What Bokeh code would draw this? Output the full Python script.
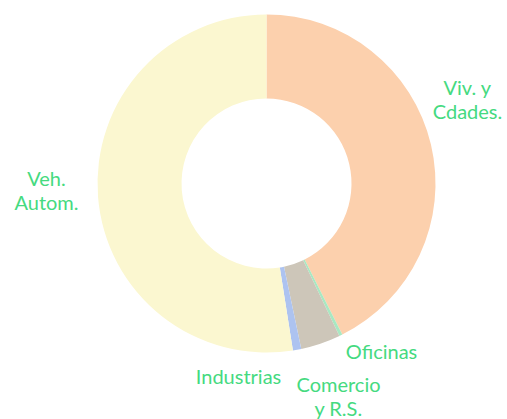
import math
from bokeh.plotting import figure
from bokeh.models import Range1d, ColumnDataSource
from bokeh.core.properties import value
from bokeh.embed import file_html
from bokeh.resources import INLINE

# data
categories = ["Viv. y\nCdades.", "Oficinas", "Comercio\ny R.S.", "Industrias", "Veh.\nAutom."]
shares = [42.6, 0.3, 3.8, 0.8, 52.5]
colors = ["#FCD0AD", "#A9E8C2", "#CDC6B9", "#ADC3F0", "#FBF7D0"]

# layout (label anchor offsets from the donut centre, in px)
label_x = [201, 115, 72, -28, -220]
label_y = [85, -167, -212, -192, -6]
LINE_STEP = 24

total = sum(shares)
starts, ends = [], []
cum = 0.0
for s in shares:
    a0 = math.pi / 2 - cum / total * 2 * math.pi
    cum += s
    a1 = math.pi / 2 - cum / total * 2 * math.pi
    starts.append(a0)
    ends.append(a1)

src = ColumnDataSource(dict(start=starts, end=ends, color=colors))

W, H = 507, 419
CX, CY = 266, 183
p = figure(width=W, height=H, output_backend="svg", toolbar_location=None,
           x_range=Range1d(-CX, W - CX), y_range=Range1d(CY - H, CY),
           min_border=0)
p.axis.visible = False
p.grid.visible = False
p.outline_line_color = None
p.background_fill_color = "white"

p.annular_wedge(x=0, y=0, inner_radius=85, outer_radius=169,
                start_angle="start", end_angle="end", direction="clock",
                fill_color="color", line_color=None, source=src)

tx, ty, tt = [], [], []
for cat, lx, ly in zip(categories, label_x, label_y):
    lines = cat.split("\n")
    n = len(lines)
    for i, ln in enumerate(lines):
        tx.append(lx)
        ty.append(ly - (i - (n - 1) / 2) * LINE_STEP)
        tt.append(ln)

lsrc = ColumnDataSource(dict(x=tx, y=ty, t=tt))
p.text(x="x", y="y", text="t", source=lsrc, text_align="center",
       text_baseline="middle", text_color="#45DA80",
       text_font=value("Lato"), text_font_size="20px")

open("out.html", "w").write(file_html(p, INLINE))
